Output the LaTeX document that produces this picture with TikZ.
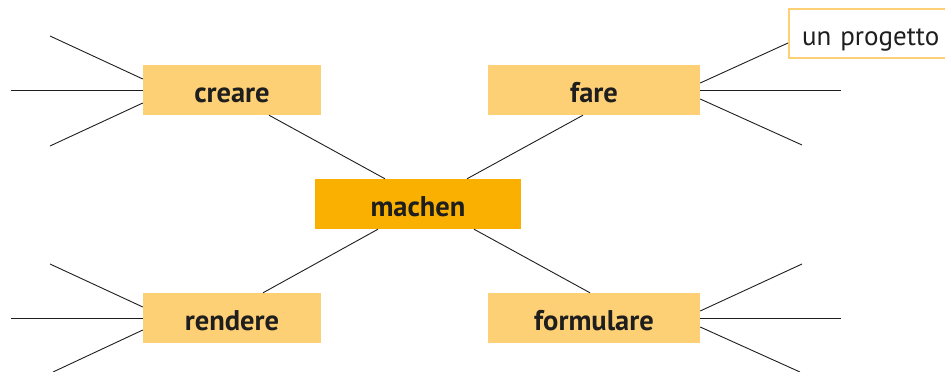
\documentclass[tikz,border=0pt]{standalone}
\usepackage{fontspec}
\setmainfont{PT Sans}
\usetikzlibrary{calc}
\definecolor{lightor}{HTML}{FDD075}
\definecolor{darkor}{HTML}{F9B000}
\definecolor{ink}{HTML}{1E1E1E}
\tikzset{
  verb/.style={rectangle, fill=lightor, minimum height=50pt, inner sep=0pt, text height=26pt, text depth=2pt, font=\fontsize{28.5}{32}\selectfont\bfseries, text=ink},
  hub/.style={verb, fill=darkor},
  answer/.style={rectangle, draw=lightor, line width=2pt, fill=white, minimum height=49pt, inner xsep=13pt, inner ysep=0pt, text height=25pt, text depth=2pt, font=\fontsize{27}{31}\selectfont, text=ink, anchor=west},
  conn/.style={draw=ink, line width=0.9pt}
}
\begin{document}
\begin{tikzpicture}[x=1pt,y=-1pt]
\useasboundingbox (0,0) rectangle (945,372);
\node[hub, minimum width=206pt] (machen) at (418,204) {machen};
\node[verb, minimum width=178pt] (creare) at (232,90) {creare};
\node[verb, minimum width=212pt] (fare) at (594,90) {fare};
\node[verb, minimum width=178pt] (rendere) at (232,318) {rendere};
\node[verb, minimum width=212pt] (formulare) at (594,318) {formulare};
\node[answer, text width=160pt, align=left] (prog) at (788,33.5) {un progetto};

% hub connectors
\draw[conn] ([xshift=37pt]creare.south) -- ([xshift=-33pt]machen.north);
\draw[conn] ([xshift=-11pt]fare.south) -- ([xshift=49pt]machen.north);
\draw[conn] ([xshift=-40pt]machen.south) -- ([xshift=31pt]rendere.north);
\draw[conn] ([xshift=56pt]machen.south) -- ([xshift=-4pt]formulare.north);

% free ends
\coordinate (c1) at (50,36);
\coordinate (c2) at (11,90);
\coordinate (c3) at (50,146);
\coordinate (f2) at (841,90);
\coordinate (f3) at (802,145);
\coordinate (r1) at (50,264);
\coordinate (r2) at (11,318);
\coordinate (r3) at (53,372);
\coordinate (m1) at (802,264);
\coordinate (m2) at (841,318);
\coordinate (m3) at (800,372);

\draw[conn] (c1) -- ([yshift=11pt]creare.west);
\draw[conn] (c2) -- (creare.west);
\draw[conn] (c3) -- ([yshift=-13pt]creare.west);

\draw[conn] ([yshift=7pt]fare.east) -- ([yshift=-9.5pt]prog.west);
\draw[conn] (fare.east) -- (f2);
\draw[conn] ([yshift=-9pt]fare.east) -- (f3);

\draw[conn] (r1) -- ([yshift=11pt]rendere.west);
\draw[conn] (r2) -- (rendere.west);
\draw[conn] (r3) -- ([yshift=-12pt]rendere.west);

\draw[conn] ([yshift=7pt]formulare.east) -- (m1);
\draw[conn] (formulare.east) -- (m2);
\draw[conn] ([yshift=-9pt]formulare.east) -- (m3);
\end{tikzpicture}
\end{document}
